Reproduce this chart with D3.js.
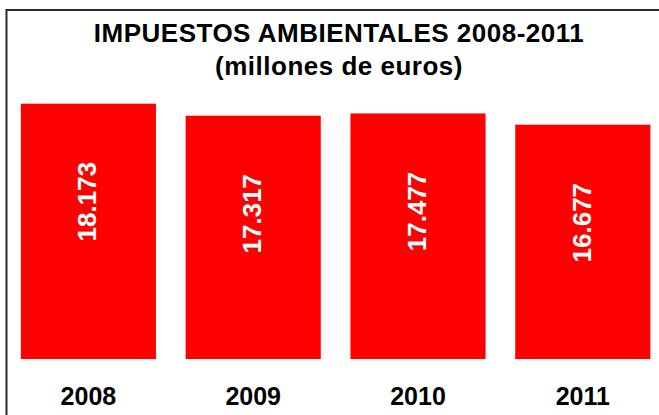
<!DOCTYPE html>
<html>
<head>
<meta charset="utf-8">
<script src="https://cdn.jsdelivr.net/npm/d3@7"></script>
<style>
  body { margin: 0; background: #fff; }
  text { font-family: "Liberation Sans", Arial, sans-serif; font-weight: bold; }
</style>
</head>
<body>
<div id="chart"></div>
<script>
var years = ["2008", "2009", "2010", "2011"],
    values = [18173, 17317, 17477, 16677],
    valueLabels = ["18.173", "17.317", "17.477", "16.677"],
    titleLines = ["IMPUESTOS AMBIENTALES 2008-2011", "(millones de euros)"];

var width = 659,
    height = 415;

var svg = d3.select("#chart").append("svg")
    .attr("width", width)
    .attr("height", height);

// Frame (only left and top edges fall inside the picture)
svg.append("rect")
    .attr("x", 6.5)
    .attr("y", 10)
    .attr("width", 700)
    .attr("height", 500)
    .attr("fill", "none")
    .attr("stroke", "#2a2a2a")
    .attr("stroke-width", 2);

var x = d3.scaleBand()
    .domain(years)
    .range([6, 665.2])
    .paddingInner(0.18)
    .paddingOuter(0.09);

var y = d3.scaleLinear()
    .domain([0, 20000])
    .range([359, 78]);

// Title
svg.selectAll("text.title")
    .data(titleLines)
  .enter().append("text")
    .attr("class", "title")
    .attr("x", 339)
    .attr("y", function(d, i) { return 42 + i * 33; })
    .attr("text-anchor", "middle")
    .attr("font-size", "26px")
    .attr("letter-spacing", "0.5px")
    .attr("fill", "#000")
    .text(function(d) { return d; });

// Bars
svg.selectAll("rect.bar")
    .data(values)
  .enter().append("rect")
    .attr("class", "bar")
    .attr("x", function(d, i) { return x(years[i]); })
    .attr("y", function(d) { return y(d); })
    .attr("width", x.bandwidth())
    .attr("height", function(d) { return y(0) - y(d); })
    .attr("fill", "#ff0000");

// Value labels, rotated inside the bars
svg.selectAll("text.value")
    .data(values)
  .enter().append("text")
    .attr("class", "value")
    .attr("transform", function(d, i) {
        var cx = x(years[i]) + x.bandwidth() / 2 + 8,
            cy = y(d) + 98;
        return "translate(" + cx + "," + cy + ") rotate(-90)";
    })
    .attr("text-anchor", "middle")
    .attr("font-size", "26px")
    .attr("fill", "#fff")
    .text(function(d, i) { return valueLabels[i]; });

// Category axis
var xAxis = d3.axisBottom(x).tickSize(0).tickPadding(0);
var gx = svg.append("g")
    .call(xAxis);
gx.select(".domain").remove();
gx.selectAll("text")
    .attr("y", 405)
    .attr("dy", null)
    .attr("font-size", "25px")
    .attr("font-family", "Liberation Sans, Arial, sans-serif")
    .attr("font-weight", "bold")
    .attr("fill", "#000");
</script>
</body>
</html>
